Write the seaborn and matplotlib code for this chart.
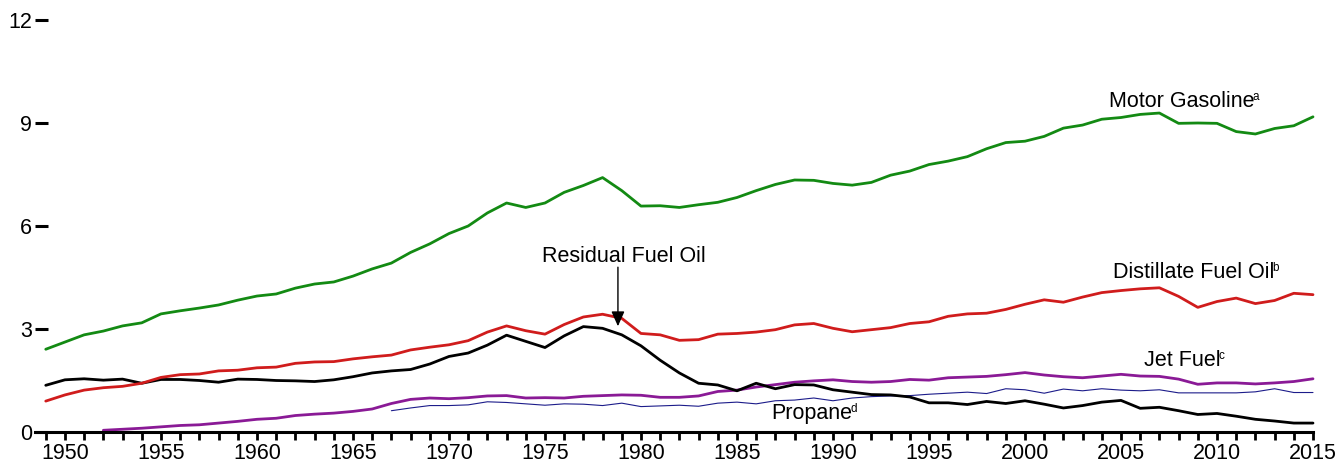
import matplotlib
matplotlib.use("Agg")
import matplotlib.pyplot as plt
import seaborn as sns
import pandas as pd

# years and series (million barrels per day)
years = list(range(1949, 2016))

motor_gasoline = [2.41, 2.62, 2.83, 2.94, 3.09, 3.18, 3.44, 3.53, 3.61, 3.70,
                  3.84, 3.96, 4.02, 4.19, 4.31, 4.37, 4.54, 4.75, 4.92, 5.23,
                  5.48, 5.78, 6.00, 6.38, 6.67, 6.54, 6.67, 6.98, 7.18, 7.41,
                  7.03, 6.58, 6.59, 6.54, 6.62, 6.69, 6.83, 7.03, 7.21, 7.34,
                  7.33, 7.24, 7.19, 7.27, 7.48, 7.60, 7.79, 7.89, 8.02, 8.25,
                  8.43, 8.47, 8.61, 8.85, 8.94, 9.11, 9.16, 9.25, 9.29, 8.99,
                  9.00, 8.99, 8.75, 8.68, 8.84, 8.92, 9.18]

distillate = [0.90, 1.08, 1.22, 1.29, 1.33, 1.42, 1.59, 1.67, 1.69, 1.78,
              1.80, 1.87, 1.89, 2.00, 2.04, 2.05, 2.13, 2.19, 2.24, 2.39,
              2.47, 2.54, 2.66, 2.91, 3.09, 2.95, 2.85, 3.13, 3.35, 3.43,
              3.31, 2.87, 2.83, 2.67, 2.69, 2.85, 2.87, 2.91, 2.98, 3.12,
              3.16, 3.02, 2.92, 2.98, 3.04, 3.16, 3.21, 3.37, 3.44, 3.46,
              3.57, 3.72, 3.85, 3.78, 3.93, 4.06, 4.12, 4.17, 4.20, 3.95,
              3.63, 3.80, 3.90, 3.74, 3.83, 4.04, 4.00]

residual = [1.36, 1.52, 1.55, 1.51, 1.54, 1.42, 1.53, 1.53, 1.50, 1.45,
            1.54, 1.53, 1.50, 1.49, 1.47, 1.52, 1.61, 1.72, 1.78, 1.82,
            1.98, 2.20, 2.30, 2.53, 2.82, 2.64, 2.46, 2.80, 3.07, 3.02,
            2.83, 2.51, 2.09, 1.72, 1.42, 1.37, 1.20, 1.42, 1.26, 1.38,
            1.37, 1.23, 1.16, 1.09, 1.08, 1.02, 0.85, 0.85, 0.80, 0.89,
            0.83, 0.91, 0.81, 0.70, 0.77, 0.87, 0.92, 0.69, 0.72, 0.62,
            0.51, 0.54, 0.46, 0.37, 0.32, 0.26, 0.26]

jet_years = list(range(1952, 2016))
jet_fuel = [0.05, 0.08, 0.11, 0.15, 0.19, 0.21, 0.26, 0.31, 0.37, 0.40,
            0.48, 0.52, 0.55, 0.60, 0.67, 0.83, 0.95, 0.99, 0.97, 1.00,
            1.05, 1.06, 0.99, 1.00, 0.99, 1.04, 1.06, 1.08, 1.07, 1.01,
            1.01, 1.05, 1.18, 1.22, 1.31, 1.38, 1.45, 1.49, 1.52, 1.47,
            1.45, 1.47, 1.53, 1.51, 1.58, 1.60, 1.62, 1.67, 1.73, 1.66,
            1.61, 1.58, 1.63, 1.68, 1.63, 1.62, 1.54, 1.39, 1.43, 1.43,
            1.40, 1.43, 1.47, 1.55]

propane_years = list(range(1967, 2016))
propane = [0.62, 0.70, 0.77, 0.77, 0.79, 0.88, 0.86, 0.82, 0.78, 0.82,
           0.81, 0.77, 0.84, 0.74, 0.76, 0.78, 0.75, 0.84, 0.87, 0.82,
           0.91, 0.93, 0.99, 0.91, 0.99, 1.03, 1.05, 1.06, 1.10, 1.13,
           1.16, 1.12, 1.26, 1.23, 1.13, 1.25, 1.20, 1.26, 1.22, 1.20,
           1.23, 1.14, 1.14, 1.14, 1.14, 1.17, 1.26, 1.15, 1.15]

sns.set_style("white")
plt.rcParams["font.family"] = ["Liberation Sans", "DejaVu Sans"]
plt.rcParams["text.color"] = "black"
plt.rcParams["xtick.color"] = "black"
plt.rcParams["ytick.color"] = "black"

fig = plt.figure(figsize=(13.4, 4.68), dpi=100)
ax = fig.add_axes([35 / 1340, 36 / 468, (1313 - 35) / 1340, (432 - 20) / 468])

# (x, y, colour, line width)
series = [
    (propane_years, propane, "#1c1c8a", 0.8),
    (jet_years, jet_fuel, "#8a1a96", 2.0),
    (years, residual, "black", 2.0),
    (years, distillate, "#d01c1c", 2.0),
    (years, motor_gasoline, "#138a13", 2.0),
]
for xs, ys, col, lw in series:
    df = pd.DataFrame({"year": xs, "value": ys})
    sns.lineplot(data=df, x="year", y="value", color=col, linewidth=lw,
                 ax=ax, clip_on=False)

ax.set_xlim(1948.44, 2015)
ax.set_ylim(0, 12)
ax.set_xlabel("")
ax.set_ylabel("")

for s in ["top", "right", "left"]:
    ax.spines[s].set_visible(False)
ax.spines["bottom"].set_linewidth(2.2)
ax.spines["bottom"].set_color("black")

ax.set_yticks([0, 3, 6, 9, 12])
ax.set_xticks(list(range(1950, 2016, 5)))
ax.set_xticks(list(range(1949, 2016)), minor=True)
ax.tick_params(axis="y", direction="in", length=9, width=2.2,
               labelsize=15.5, pad=2, left=True)
ax.tick_params(axis="x", which="both", direction="out", length=6, width=2,
               bottom=True)
ax.tick_params(axis="x", which="major", labelsize=15.5, pad=2)

fs = 15.5


def label(x, y, txt, sup):
    t = ax.text(x, y, txt, fontsize=fs, va="center")
    ax.annotate(sup, xy=(1, 1), xycoords=t, xytext=(-1.5, 0),
                textcoords="offset points", fontsize=8.5, va="top", ha="left")


label(2004.4, 9.64, "Motor Gasoline", "a")
label(2004.6, 4.66, "Distillate Fuel Oil", "b")
label(2006.2, 2.07, "Jet Fuel", "c")
label(1986.8, 0.55, "Propane", "d")

ax.text(1979.1, 5.1, "Residual Fuel Oil", fontsize=fs, ha="center", va="center")
ax.annotate("", xy=(1978.8, 3.08), xytext=(1978.8, 4.8),
            arrowprops=dict(arrowstyle="-|>,head_length=0.9,head_width=0.4",
                            color="black", lw=1.0, shrinkA=0, shrinkB=0))

fig.savefig("out.png", dpi=100)
